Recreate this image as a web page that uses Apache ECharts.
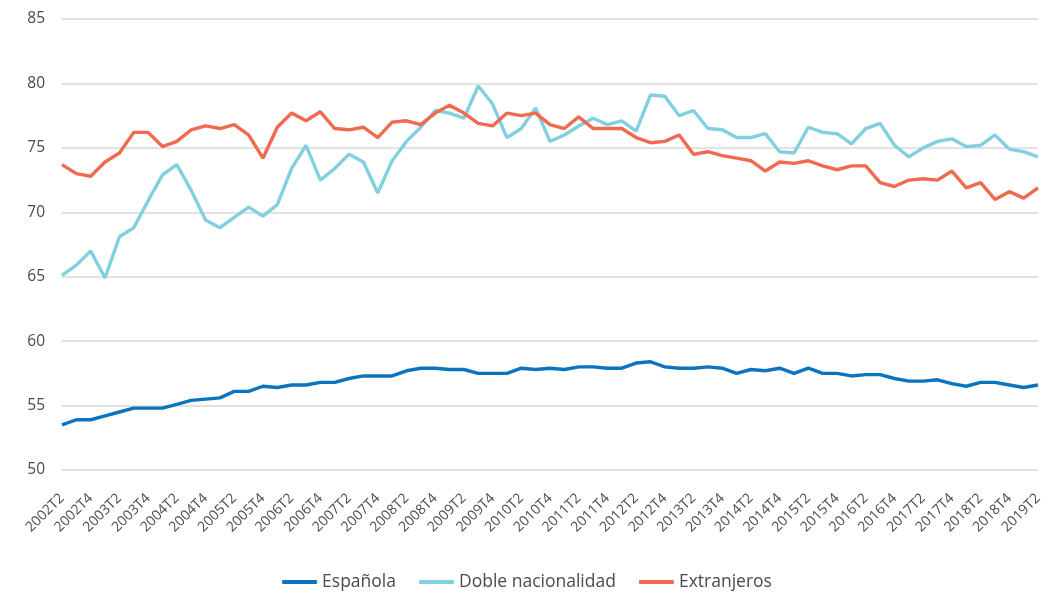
<!DOCTYPE html>
<html>
<head>
<meta charset="utf-8">
<script src="https://cdn.jsdelivr.net/npm/echarts@6/dist/echarts.min.js"></script>
<style>
  html, body { margin: 0; padding: 0; background: #fff; }
  #chart { width: 1054px; height: 597px; }
</style>
</head>
<body>
<div id="chart"></div>
<script>
// trimestres 2002T2 .. 2019T2
var quarters = [];
for (var y = 2002; y <= 2019; y++) {
  for (var q = 1; q <= 4; q++) {
    if (y === 2002 && q < 2) continue;
    if (y === 2019 && q > 2) continue;
    quarters.push(y + "T" + q);
  }
}

var espanola = [
  53.5, 53.9, 53.9, 54.2, 54.5, 54.8, 54.8, 54.8, 55.1, 55.4,
  55.5, 55.6, 56.1, 56.1, 56.5, 56.4, 56.6, 56.6, 56.8, 56.8,
  57.1, 57.3, 57.3, 57.3, 57.7, 57.9, 57.9, 57.8, 57.8, 57.5,
  57.5, 57.5, 57.9, 57.8, 57.9, 57.8, 58.0, 58.0, 57.9, 57.9,
  58.3, 58.4, 58.0, 57.9, 57.9, 58.0, 57.9, 57.5, 57.8, 57.7,
  57.9, 57.5, 57.9, 57.5, 57.5, 57.3, 57.4, 57.4, 57.1, 56.9,
  56.9, 57.0, 56.7, 56.5, 56.8, 56.8, 56.6, 56.4, 56.6
];

var doble = [
  65.1, 65.9, 67.0, 64.9, 68.1, 68.8, 70.9, 72.9, 73.7, 71.7,
  69.4, 68.8, 69.6, 70.4, 69.7, 70.6, 73.4, 75.2, 72.5, 73.4,
  74.5, 73.9, 71.5, 74.0, 75.5, 76.6, 77.9, 77.7, 77.3, 79.8,
  78.4, 75.8, 76.5, 78.1, 75.5, 76.0, 76.7, 77.3, 76.8, 77.1,
  76.3, 79.1, 79.0, 77.5, 77.9, 76.5, 76.4, 75.8, 75.8, 76.1,
  74.7, 74.6, 76.6, 76.2, 76.1, 75.3, 76.5, 76.9, 75.2, 74.3,
  75.0, 75.5, 75.7, 75.1, 75.2, 76.0, 74.9, 74.7, 74.3
];

var extranjeros = [
  73.7, 73.0, 72.8, 73.9, 74.6, 76.2, 76.2, 75.1, 75.5, 76.4,
  76.7, 76.5, 76.8, 76.0, 74.2, 76.6, 77.7, 77.1, 77.8, 76.5,
  76.4, 76.6, 75.8, 77.0, 77.1, 76.8, 77.7, 78.3, 77.7, 76.9,
  76.7, 77.7, 77.5, 77.7, 76.8, 76.5, 77.4, 76.5, 76.5, 76.5,
  75.8, 75.4, 75.5, 76.0, 74.5, 74.7, 74.4, 74.2, 74.0, 73.2,
  73.9, 73.8, 74.0, 73.6, 73.3, 73.6, 73.6, 72.3, 72.0, 72.5,
  72.6, 72.5, 73.2, 71.9, 72.3, 71.0, 71.6, 71.1, 71.9
];

var chart = echarts.init(document.getElementById("chart"));

function serie(name, data, color) {
  return {
    name: name,
    type: "line",
    data: data,
    symbol: "none",
    lineStyle: { width: 3.4, color: color },
    itemStyle: { color: color },
    animation: false
  };
}

chart.setOption({
  backgroundColor: "#fff",
  textStyle: { fontFamily: "Open Sans" },
  grid: { left: 62, right: 16, top: 19, bottom: 127 },
  legend: {
    bottom: 1,
    left: "center",
    itemWidth: 35,
    itemHeight: 4,
    itemGap: 23,
    icon: "roundRect",
    textStyle: { fontSize: 17.5, color: "#4a4a4f", fontFamily: "Open Sans" },
    data: ["Española", "Doble nacionalidad", "Extranjeros"]
  },
  xAxis: {
    type: "category",
    data: quarters,
    boundaryGap: false,
    axisLine: { show: false },
    axisTick: { show: false },
    axisLabel: {
      interval: 1,
      rotate: 45,
      margin: 26,
      fontSize: 14,
      color: "#4a4a4f",
      fontFamily: "Open Sans"
    }
  },
  yAxis: {
    type: "value",
    min: 50,
    max: 85,
    interval: 5,
    axisLine: { show: false },
    axisTick: { show: false },
    axisLabel: { fontSize: 15.5, color: "#4a4a4f", margin: 17, fontFamily: "Open Sans" },
    splitLine: { lineStyle: { color: "#d9d9d9", width: 1.5 } }
  },
  series: [
    serie("Española", espanola, "#0a74bf"),
    serie("Doble nacionalidad", doble, "#82d0df"),
    serie("Extranjeros", extranjeros, "#ef6a4f")
  ]
});
</script>
</body>
</html>
